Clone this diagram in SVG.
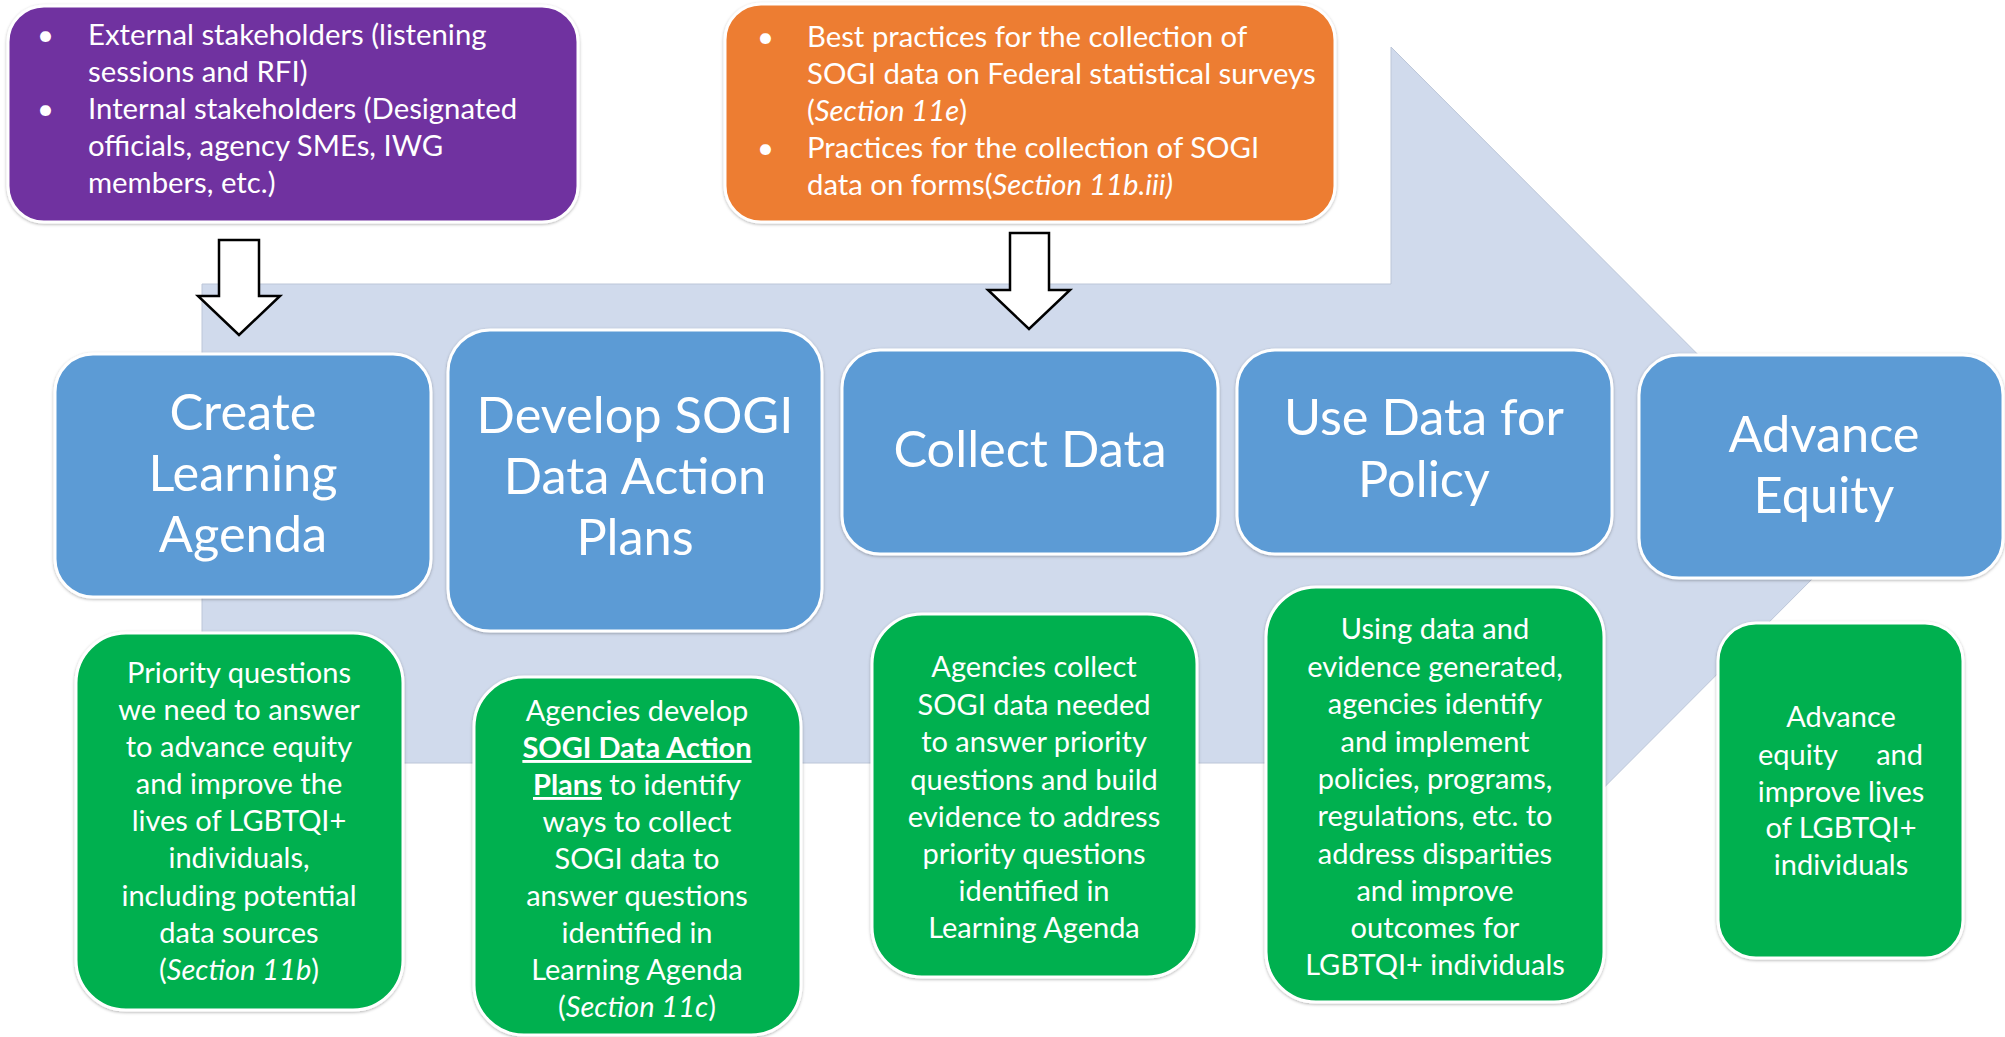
<svg xmlns="http://www.w3.org/2000/svg" width="2005" height="1037" viewBox="0 0 2005 1037">
  <defs>
    <filter id="soft" x="-5%" y="-5%" width="110%" height="110%">
      <feDropShadow dx="0" dy="1" stdDeviation="1.5" flood-color="#000" flood-opacity="0.3"/>
    </filter>
  </defs>
  <style>
    text { font-family: Lato, "Open Sans", "Liberation Sans", sans-serif; fill: #ffffff; }
    .box { stroke: #ffffff; stroke-width: 3; filter: url(#soft); }
    .purple { fill: #7030A0; }
    .orange { fill: #ED7D31; }
    .blue { fill: #5B9BD5; }
    .green { fill: #00B050; }
    .title { font-size: 50.5px; text-anchor: middle; }
    .body { font-size: 29px; text-anchor: middle; }
    .left { font-size: 29px; }
    .bullet { font-size: 29.3px; }
    .em { font-style: italic; }
    .key { font-weight: bold; text-decoration: underline; }
    .flow { fill: #ffffff; stroke: #000000; stroke-width: 2.5; stroke-linejoin: miter; }
  </style>

  <rect width="2005" height="1037" fill="#ffffff"/>

  <!-- large background process arrow -->
  <path id="process-arrow" d="M202,284 H1391 V47 L1867,524 L1391,1001 V763 H202 Z" fill="#D0DAEC" stroke="#BCC6D8" stroke-width="1"/>

  <!-- input boxes -->
  <g id="stakeholders">
    <rect class="box purple" x="8" y="6" width="570" height="216" rx="36"/>
    <text class="bullet" x="37" y="45">•</text>
    <text class="bullet" x="88" y="45">External stakeholders (listening</text>
    <text class="bullet" x="88" y="82">sessions and RFI)</text>
    <text class="bullet" x="37" y="119">•</text>
    <text class="bullet" x="88" y="119">Internal stakeholders (Designated</text>
    <text class="bullet" x="88" y="156">officials, agency SMEs, IWG</text>
    <text class="bullet" x="88" y="193">members, etc.)</text>
  </g>

  <g id="practices">
    <rect class="box orange" x="725" y="4" width="610" height="218" rx="36"/>
    <text class="bullet" x="757" y="47">•</text>
    <text class="bullet" x="807" y="47">Best practices for the collection of</text>
    <text class="bullet" x="807" y="84">SOGI data on Federal statistical surveys</text>
    <text class="bullet" x="807" y="121">(<tspan class="em">Section 11e</tspan>)</text>
    <text class="bullet" x="757" y="158">•</text>
    <text class="bullet" x="807" y="158">Practices for the collection of SOGI</text>
    <text class="bullet" x="807" y="195">data on forms(<tspan class="em">Section 11b.iii)</tspan></text>
  </g>

  <!-- input arrows -->
  <g id="connectors">
    <path class="flow" d="M219,240 H259 V296 H280 L239,335 L198,296 H219 Z"/>
    <path class="flow" d="M1010,233 H1049 V290 H1070 L1029,329 L988,290 H1010 Z"/>
  </g>

  <!-- process steps -->
  <g id="step-learning-agenda">
    <rect class="box blue" x="55" y="354" width="376" height="243" rx="38"/>
    <text class="title" x="243" y="430">Create</text>
    <text class="title" x="243" y="491">Learning</text>
    <text class="title" x="243" y="552">Agenda</text>
  </g>

  <g id="step-action-plans">
    <rect class="box blue" x="448" y="330" width="374" height="301" rx="42"/>
    <text class="title" x="635" y="433">Develop SOGI</text>
    <text class="title" x="635" y="494">Data Action</text>
    <text class="title" x="635" y="555">Plans</text>
  </g>

  <g id="step-collect">
    <rect class="box blue" x="842" y="350" width="376" height="204" rx="38"/>
    <text class="title" x="1030" y="467">Collect Data</text>
  </g>

  <g id="step-policy">
    <rect class="box blue" x="1237" y="350" width="375" height="204" rx="38"/>
    <text class="title" x="1424" y="435">Use Data for</text>
    <text class="title" x="1424" y="497">Policy</text>
  </g>

  <g id="step-equity">
    <rect class="box blue" x="1639" y="355" width="364" height="223" rx="40"/>
    <text class="title" x="1824" y="452">Advance</text>
    <text class="title" x="1824" y="513">Equity</text>
  </g>

  <!-- step descriptions -->
  <g id="desc-learning-agenda">
    <rect class="box green" x="76" y="633" width="327" height="377" rx="50"/>
    <text class="body" x="239" y="683">Priority questions</text>
    <text class="body" x="239" y="720">we need to answer</text>
    <text class="body" x="239" y="757">to advance equity</text>
    <text class="body" x="239" y="794">and improve the</text>
    <text class="body" x="239" y="831">lives of LGBTQI+</text>
    <text class="body" x="239" y="868">individuals,</text>
    <text class="body" x="239" y="906">including potential</text>
    <text class="body" x="239" y="943">data sources</text>
    <text class="body" x="239" y="980">(<tspan class="em">Section 11b</tspan>)</text>
  </g>

  <g id="desc-action-plans">
    <rect class="box green" x="474" y="677" width="327" height="358" rx="50"/>
    <text class="body" x="637" y="721">Agencies develop</text>
    <text class="body" x="637" y="758"><tspan class="key">SOGI Data Action</tspan></text>
    <text class="body" x="637" y="795"><tspan class="key">Plans</tspan> to identify</text>
    <text class="body" x="637" y="832">ways to collect</text>
    <text class="body" x="637" y="869">SOGI data to</text>
    <text class="body" x="637" y="906">answer questions</text>
    <text class="body" x="637" y="943">identified in</text>
    <text class="body" x="637" y="980">Learning Agenda</text>
    <text class="body" x="637" y="1017">(<tspan class="em">Section 11c</tspan>)</text>
  </g>

  <g id="desc-collect">
    <rect class="box green" x="872" y="614" width="325" height="363" rx="50"/>
    <text class="body" x="1034" y="677">Agencies collect</text>
    <text class="body" x="1034" y="715">SOGI data needed</text>
    <text class="body" x="1034" y="752">to answer priority</text>
    <text class="body" x="1034" y="790">questions and build</text>
    <text class="body" x="1034" y="827">evidence to address</text>
    <text class="body" x="1034" y="864">priority questions</text>
    <text class="body" x="1034" y="901">identified in</text>
    <text class="body" x="1034" y="938">Learning Agenda</text>
  </g>

  <g id="desc-policy">
    <rect class="box green" x="1266" y="587" width="338" height="415" rx="50"/>
    <text class="body" x="1435" y="639">Using data and</text>
    <text class="body" x="1435" y="677">evidence generated,</text>
    <text class="body" x="1435" y="714">agencies identify</text>
    <text class="body" x="1435" y="752">and implement</text>
    <text class="body" x="1435" y="789">policies, programs,</text>
    <text class="body" x="1435" y="826">regulations, etc. to</text>
    <text class="body" x="1435" y="864">address disparities</text>
    <text class="body" x="1435" y="901">and improve</text>
    <text class="body" x="1435" y="938">outcomes for</text>
    <text class="body" x="1435" y="975">LGBTQI+ individuals</text>
  </g>

  <g id="desc-equity">
    <rect class="box green" x="1718" y="623" width="245" height="335" rx="38"/>
    <text class="body" x="1841" y="727">Advance</text>
    <text class="left" x="1758" y="765">equity</text>
    <text class="left" x="1923" y="765" text-anchor="end">and</text>
    <text class="body" x="1841" y="802">improve lives</text>
    <text class="body" x="1841" y="838">of LGBTQI+</text>
    <text class="body" x="1841" y="875">individuals</text>
  </g>
</svg>
